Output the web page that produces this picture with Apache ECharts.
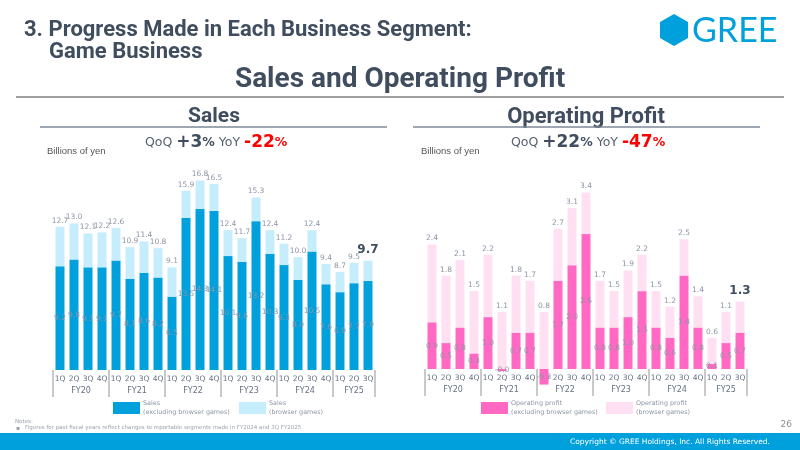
<!DOCTYPE html>
<html>
<head>
<meta charset="utf-8">
<script src="https://cdn.jsdelivr.net/npm/echarts@6/dist/echarts.min.js"></script>
<style>
  html, body { margin: 0; padding: 0; background: #fff; }
  #main { width: 800px; height: 450px; }
</style>
</head>
<body>
<div id="main"></div>
<script>
const quarters = ['1Q', '2Q', '3Q', '4Q', '1Q', '2Q', '3Q', '4Q', '1Q', '2Q', '3Q', '4Q',
  '1Q', '2Q', '3Q', '4Q', '1Q', '2Q', '3Q', '4Q', '1Q', '2Q', '3Q'];
const fiscalYears = ['FY20', 'FY21', 'FY22', 'FY23', 'FY24', 'FY25'];
const quartersPerYear = [4, 4, 4, 4, 4, 3];

// billions of yen
const salesExBrowser = [9.2, 9.8, 9.1, 9.1, 9.7, 8.1, 8.6, 8.2, 6.5, 13.5, 14.3, 14.1,
  10.1, 9.6, 13.2, 10.3, 9.3, 8.0, 10.5, 7.6, 6.9, 7.7, 7.9];
const salesBrowser = [3.5, 3.2, 3.0, 3.1, 2.9, 2.8, 2.8, 2.6, 2.6, 2.4, 2.5, 2.4,
  2.3, 2.1, 2.1, 2.1, 1.9, 2.0, 1.9, 1.8, 1.8, 1.8, 1.8];
const profitExBrowser = [0.9, 0.5, 0.8, 0.3, 1.0, -0.04, 0.7, 0.7, -0.3, 1.7, 2.0, 2.6,
  0.8, 0.8, 1.0, 1.5, 0.8, 0.6, 1.8, 0.8, 0.1, 0.5, 0.7];
const profitBrowser = [1.5, 1.3, 1.3, 1.2, 1.2, 1.1, 1.1, 1.0, 1.1, 1.0, 1.1, 0.8,
  0.9, 0.7, 0.9, 0.7, 0.7, 0.6, 0.7, 0.6, 0.5, 0.6, 0.6];

const BLUE = '#00a0dc';
const LIGHT_BLUE = '#c6edfc';
const PINK = '#ff69c4';
const LIGHT_PINK = '#ffe0f2';
const LABEL_GRAY = '#8c95a5';
const TEXT_DARK = '#3f4d5e';
const VERDANA = '"DejaVu Sans", Verdana, sans-serif';
const NARROW = '"Liberation Sans Narrow", "Liberation Sans", sans-serif';
const HEAD = 'Roboto, "Liberation Sans", sans-serif';

// half-quarter slots for the fiscal-year axis (ticks at year edges, label in the middle)
const fySlots = new Array(47).fill('');
const fyTicks = new Set();
const fyLabels = new Set();
let pos = 0;
fiscalYears.forEach((fy, i) => {
  const n = quartersPerYear[i];
  fyTicks.add(pos * 2);
  fyLabels.add(pos * 2 + n);
  fySlots[pos * 2 + n] = fy;
  pos += n;
});
fyTicks.add(pos * 2);

const chart = echarts.init(document.getElementById('main'));

const quarterAxis = (gridIndex) => ({
  type: 'category',
  gridIndex,
  position: 'bottom',
  data: quarters,
  boundaryGap: true,
  axisLine: { show: false, onZero: false },
  axisTick: { show: false },
  axisLabel: { interval: 0, margin: 5, fontSize: 7.5, color: '#667284', fontFamily: VERDANA },
});
const yearAxis = (gridIndex) => ({
  type: 'category',
  gridIndex,
  position: 'bottom',
  data: fySlots,
  boundaryGap: false,
  axisLine: { show: false, onZero: false },
  axisTick: {
    show: true,
    interval: (i) => fyTicks.has(i),
    length: 27,
    lineStyle: { color: '#b8b8b8', width: 1.5 },
  },
  axisLabel: {
    interval: (i) => fyLabels.has(i),
    margin: 17,
    fontSize: 8,
    color: '#667284',
    fontFamily: VERDANA,
  },
});

const last = quarters.length - 1;
const barLabel = {
  show: true,
  fontSize: 7.5,
  color: LABEL_GRAY,
  fontFamily: VERDANA,
};
const makeSeries = (name, stack, idx, color, values, extra) => ({
  name,
  type: 'bar',
  stack,
  xAxisIndex: idx * 2,
  yAxisIndex: idx,
  barWidth: 9,
  clip: false,
  itemStyle: { color },
  data: values,
  ...extra,
});
const totalData = (base, top) => top.map((v, i) => i === last
  ? { value: v, label: { fontSize: 12, fontWeight: 'bold', color: TEXT_DARK, distance: 5 } }
  : v);
const totalLabel = (base, top) => ({
  ...barLabel,
  position: 'top',
  distance: 2,
  formatter: (p) => (base[p.dataIndex] + top[p.dataIndex]).toFixed(1),
});
const innerLabel = {
  ...barLabel,
  position: 'inside',
  formatter: (p) => p.value.toFixed(1),
};

const qoq = (qq, yy) => ({
  text: '{a|QoQ }{b|' + qq + '}{bp|%}{a| YoY }{r|' + yy + '}{rp|%}',
  rich: {
    a: { fontSize: 12.5, fontFamily: VERDANA, fill: '#56616f' },
    b: { fontSize: 17, fontFamily: VERDANA, fontWeight: 'bold', fill: TEXT_DARK },
    bp: { fontSize: 12.5, fontFamily: VERDANA, fontWeight: 'bold', fill: TEXT_DARK },
    r: { fontSize: 17, fontFamily: VERDANA, fontWeight: 'bold', fill: '#ff0000' },
    rp: { fontSize: 12.5, fontFamily: VERDANA, fontWeight: 'bold', fill: '#ff0000' },
  },
});

const legendItem = (name, left) => ({
  data: [name],
  left,
  top: 399,
  padding: 0,
  icon: 'rect',
  itemWidth: 27,
  itemHeight: 12,
  itemGap: 0,
  selectedMode: false,
  textStyle: { fontSize: 6.4, color: LABEL_GRAY, fontFamily: VERDANA, lineHeight: 9, padding: [0, 0, 0, -2] },
});

const S1 = 'Sales\n(excluding browser games)';
const S2 = 'Sales\n(browser games)';
const P1 = 'Operating profit\n(excluding browser games)';
const P2 = 'Operating profit\n(browser games)';

chart.setOption({
  animation: false,
  textStyle: { fontFamily: VERDANA },
  grid: [
    { left: 53, top: 167, width: 322, height: 203 },
    { left: 425, top: 161.4, width: 322, height: 207.6 },
  ],
  xAxis: [quarterAxis(0), yearAxis(0), quarterAxis(1), yearAxis(1)],
  yAxis: [
    { type: 'value', gridIndex: 0, min: 0, max: 18, show: false },
    { type: 'value', gridIndex: 1, min: 0, max: 4, show: false },
  ],
  legend: [
    legendItem(S1, 113),
    legendItem(S2, 239),
    legendItem(P1, 481),
    legendItem(P2, 606),
  ],
  series: [
    makeSeries(S1, 'sales', 0, BLUE, salesExBrowser, { label: innerLabel }),
    makeSeries(S2, 'sales', 0, LIGHT_BLUE, totalData(salesExBrowser, salesBrowser),
      { label: totalLabel(salesExBrowser, salesBrowser) }),
    makeSeries(P1, 'profit', 1, PINK, profitExBrowser, { label: innerLabel }),
    makeSeries(P2, 'profit', 1, LIGHT_PINK, totalData(profitExBrowser, profitBrowser),
      { label: totalLabel(profitExBrowser, profitBrowser) }),
  ],
  graphic: [
    { type: 'text', style: { text: '3. Progress Made in Each Business Segment:', x: 24, y: 30,
      font: 'bold 22px ' + HEAD, fill: TEXT_DARK, textVerticalAlign: 'middle' } },
    { type: 'text', style: { text: 'Game Business', x: 49, y: 52,
      font: 'bold 22px ' + HEAD, fill: TEXT_DARK, textVerticalAlign: 'middle' } },
    { type: 'text', style: { text: 'Sales and Operating Profit', x: 400, y: 80,
      font: 'bold 28px ' + HEAD, fill: TEXT_DARK, textAlign: 'center', textVerticalAlign: 'middle' } },
    { type: 'line', shape: { x1: 16, y1: 97, x2: 784, y2: 97 }, style: { stroke: '#404040', lineWidth: 1 } },
    { type: 'text', style: { text: 'Sales', x: 214, y: 117,
      font: 'bold 21px ' + HEAD, fill: TEXT_DARK, textAlign: 'center', textVerticalAlign: 'middle' } },
    { type: 'line', shape: { x1: 40, y1: 127, x2: 387, y2: 127 }, style: { stroke: '#7d8897', lineWidth: 1.5 } },
    { type: 'text', style: { text: 'Operating Profit', x: 586, y: 117,
      font: 'bold 22px ' + HEAD, fill: TEXT_DARK, textAlign: 'center', textVerticalAlign: 'middle' } },
    { type: 'line', shape: { x1: 413, y1: 127, x2: 760, y2: 127 }, style: { stroke: '#7d8897', lineWidth: 1.5 } },
    { type: 'text', style: { text: 'Billions of yen', x: 47, y: 151,
      font: '9.5px ' + NARROW, fill: '#555', textVerticalAlign: 'middle' } },
    { type: 'text', style: { text: 'Billions of yen', x: 421, y: 151,
      font: '9.5px ' + NARROW, fill: '#555', textVerticalAlign: 'middle' } },
    { type: 'text', style: { ...qoq('+3', '-22'), x: 145, y: 143, textVerticalAlign: 'middle' } },
    { type: 'text', style: { ...qoq('+22', '-47'), x: 511, y: 143, textVerticalAlign: 'middle' } },
    { type: 'polygon', shape: { points: [[674, 14], [688, 22], [688, 38], [674, 46], [660, 38], [660, 22]] },
      style: { fill: BLUE } },
    { type: 'text', style: { text: 'GREE', x: 692, y: 31,
      font: '34px Lato, Roboto, sans-serif', fill: BLUE, textVerticalAlign: 'middle' } },
    { type: 'text', style: { text: 'Notes:', x: 15, y: 422,
      font: '5.5px ' + VERDANA, fill: '#9aa2ae', textVerticalAlign: 'middle' } },
    { type: 'text', style: { text: '\u25aa', x: 16, y: 428,
      font: '6px ' + VERDANA, fill: '#9aa2ae', textVerticalAlign: 'middle' } },
    { type: 'text', style: { text: 'Figures for past fiscal years reflect changes to reportable segments made in FY2024 and 3Q FY2025',
      x: 25, y: 428, font: '5.5px ' + VERDANA, fill: '#9aa2ae', textVerticalAlign: 'middle' } },
    { type: 'text', style: { text: '26', x: 792, y: 425,
      font: '9px ' + VERDANA, fill: '#8a8f96', textAlign: 'right', textVerticalAlign: 'middle' } },
    { type: 'rect', shape: { x: 0, y: 433, width: 800, height: 17 }, style: { fill: BLUE } },
    { type: 'text', style: { text: 'Copyright \u00a9 GREE Holdings, Inc. All Rights Reserved.', x: 770, y: 442,
      font: '7.5px ' + VERDANA, fill: '#ffffff', textAlign: 'right', textVerticalAlign: 'middle' } },
  ],
});
</script>
</body>
</html>
